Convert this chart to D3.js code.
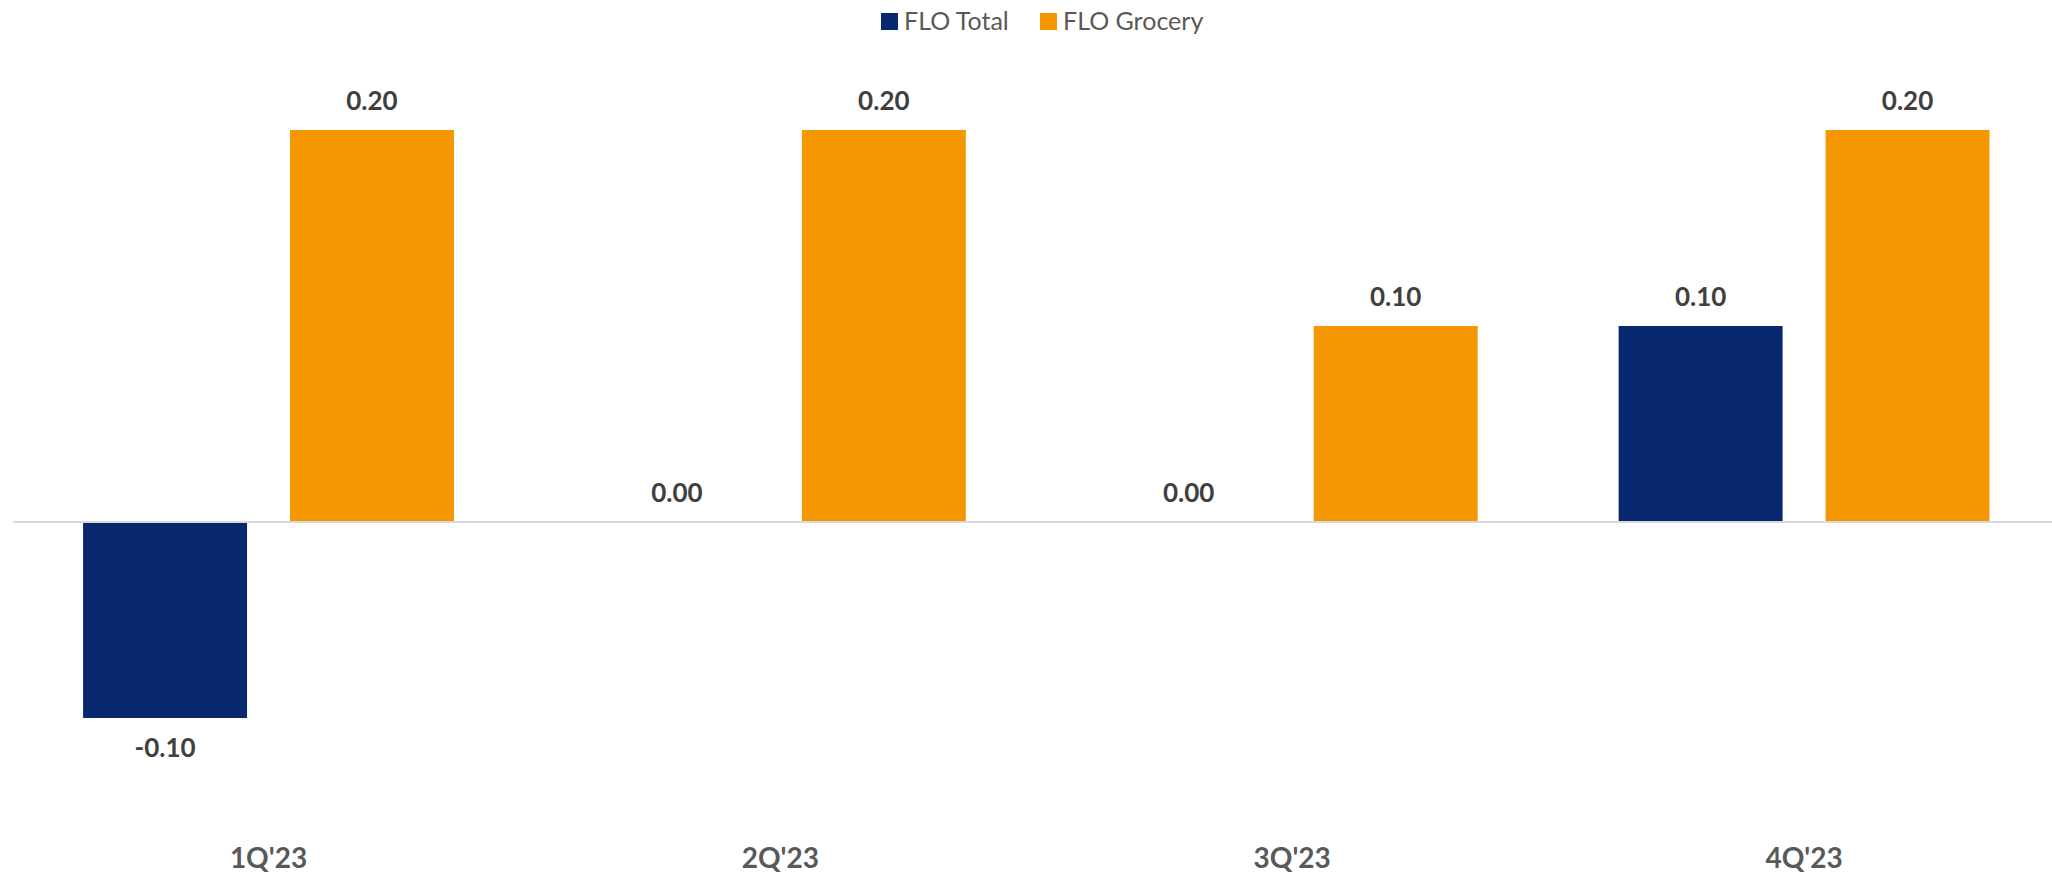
<!DOCTYPE html>
<html>
<head>
<meta charset="utf-8">
<script src="https://cdn.jsdelivr.net/npm/d3@7"></script>
<style>
  html, body { margin: 0; padding: 0; background: #ffffff; }
  svg { display: block; }
  text { font-family: Lato, "Open Sans", sans-serif; }
</style>
</head>
<body>
<svg id="chart" width="2052" height="875"></svg>
<script>
// Quarterly values per series
const categories = ["1Q'23", "2Q'23", "3Q'23", "4Q'23"];
const seriesNames = ["FLO Total", "FLO Grocery"];
const floTotal = [-0.10, 0.00, 0.00, 0.10];
const floGrocery = [0.20, 0.20, 0.10, 0.20];
const seriesColors = ["#08286F", "#F59700"];

const seriesValues = [floTotal, floGrocery];
const rows = categories.map((c, i) => ({
  category: c,
  values: seriesNames.map((s, k) => ({ series: s, value: seriesValues[k][i], color: seriesColors[k] }))
}));

const W = 2052, H = 875;
const svg = d3.select("#chart");

const x0 = d3.scaleBand().domain(categories).range([12.6, 2060]).padding(0);
const x1 = d3.scaleBand().domain(seriesNames).range([0, x0.bandwidth()])
  .paddingInner(0.2077).paddingOuter(0.3406);
const y = d3.scaleLinear().domain([-0.1, 0.2]).range([718, 130]);

// plain hyphen for negatives, two decimals
const fmt = v => d3.format(".2f")(v).replace("\u2212", "-");

// bars
const groups = svg.append("g").selectAll("g")
  .data(rows).join("g")
  .attr("transform", d => `translate(${x0(d.category)},0)`);

groups.selectAll("rect")
  .data(d => d.values).join("rect")
  .attr("x", d => x1(d.series))
  .attr("width", x1.bandwidth())
  .attr("y", d => y(Math.max(0, d.value)))
  .attr("height", d => Math.abs(y(d.value) - y(0)))
  .attr("fill", d => d.color);

// zero baseline
svg.append("line")
  .attr("x1", 13).attr("x2", W)
  .attr("y1", y(0)).attr("y2", y(0))
  .attr("stroke", "#d9d9d9").attr("stroke-width", 2);

// value labels
groups.selectAll("text.val")
  .data(d => d.values).join("text")
  .attr("class", "val")
  .attr("x", d => x1(d.series) + x1.bandwidth() / 2)
  .attr("y", d => d.value < 0 ? y(d.value) + 39 : y(d.value) - 20)
  .attr("text-anchor", "middle")
  .attr("font-size", 26)
  .attr("font-weight", 700)
  .attr("fill", "#404040")
  .text(d => fmt(d.value));

// category axis labels
const xAxis = d3.axisBottom(x0).tickSize(0).tickPadding(0);
const axisG = svg.append("g").attr("transform", "translate(0,845)").call(xAxis);
axisG.select(".domain").remove();
axisG.selectAll("text")
  .attr("font-family", "Lato, 'Open Sans', sans-serif")
  .attr("font-size", 28)
  .attr("font-weight", 700)
  .attr("fill", "#595959")
  .attr("dy", 0)
  .attr("y", 23);

// legend
const legendItems = [
  { name: seriesNames[0], color: seriesColors[0], x: 881 },
  { name: seriesNames[1], color: seriesColors[1], x: 1040 }
];
const lg = svg.append("g").selectAll("g").data(legendItems).join("g")
  .attr("transform", d => `translate(${d.x},0)`);
lg.append("rect")
  .attr("x", 0).attr("y", 13).attr("width", 17).attr("height", 17)
  .attr("fill", d => d.color);
lg.append("text")
  .attr("x", 23).attr("y", 30)
  .attr("font-size", 25)
  .attr("fill", "#595959")
  .text(d => d.name);
</script>
</body>
</html>
